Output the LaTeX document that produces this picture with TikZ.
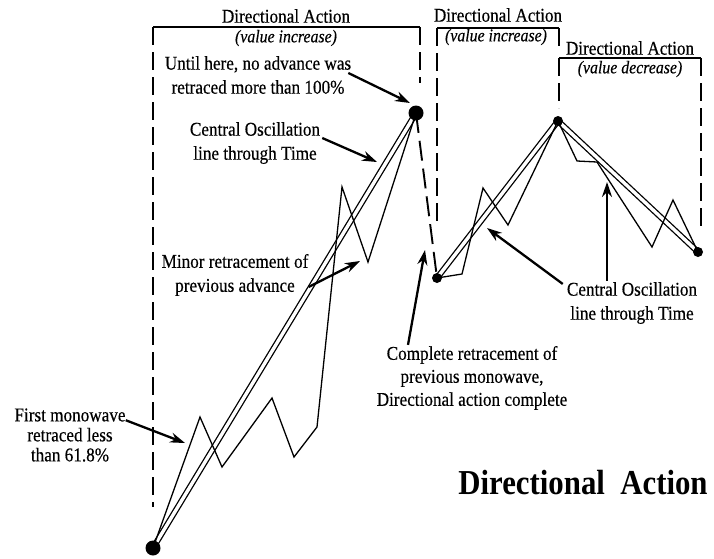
\documentclass[tikz,border=0pt]{standalone}
\usepackage{fontspec}
\setmainfont{Liberation Serif}[FakeStretch=0.88, UprightFeatures={FakeBold=0.35}, ItalicFeatures={FakeBold=0.35}]
\usetikzlibrary{arrows.meta}
\begin{document}
\begin{tikzpicture}[x=1pt,y=-1pt,
  thinl/.style={line width=1.3pt, line join=miter},
  dbl/.style={line width=1.3pt, double=white, double distance=3.4pt},
  dsh/.style={line width=1.9pt, dash pattern=on 18pt off 7pt},
  brk/.style={line width=1.9pt},
  ptr/.style={line width=2.3pt, -{Stealth[length=15pt,width=10pt]}},
  lbl/.style={font=\fontsize{19.5}{24}\selectfont, align=center, inner sep=0pt},
  hdr/.style={font=\fontsize{19.5}{24}\selectfont, inner sep=0pt},
  subh/.style={font=\fontsize{18}{20}\selectfont\itshape, inner sep=0pt},
  bigdot/.style={circle, fill=black, inner sep=0pt, minimum size=15pt},
  smalldot/.style={circle, fill=black, inner sep=0pt, minimum size=10pt}]

\useasboundingbox (0,0) rectangle (714,558);

% key points
\coordinate (p0) at (153,548);
\coordinate (p1) at (416,113);
\coordinate (p2) at (437,278);
\coordinate (p3) at (558,121);
\coordinate (p4) at (698,252);

% brackets
\draw[brk] (153,27) -- (420,27);
\draw[dsh] (153,27) -- (153,507);
\draw[dsh] (420,27) -- (420,83);
\draw[brk] (437,28) -- (559,28);
\draw[dsh] (437,28) -- (437,224);
\draw[dsh] (559,28) -- (559,50);
\draw[brk] (559,58) -- (701,58);
\draw[dsh] (559,58) -- (559,108);
\draw[dsh] (701,58) -- (701,228);

% headers
\node[hdr] (h1) at (286,16) {Directional Action};
\node[subh] (s1) at (286,38) {(value increase)};
\node[hdr] (h2) at (498,15) {Directional Action};
\node[subh] (s2) at (496,37) {(value increase)};
\node[hdr] (h3) at (630,48) {Directional Action};
\node[subh] (s3) at (630,69) {(value decrease)};

% central oscillation lines
\draw[dbl] (p0) -- (p1);
\draw[dbl] (p2) -- (p3);
\draw[dbl] (p3) -- (p4);

% price zigzags
\draw[thinl] (p0) -- (200,417) -- (222,467) -- (272,398) -- (294,457) -- (317,427)
  -- (342,187) -- (368,262) -- (p1);
\draw[thinl] (p2) -- (462,274) -- (483,188) -- (508,225) -- (p3);
\draw[thinl] (p3) -- (577,161) -- (597,162) -- (652,247) -- (673,200) -- (p4);

% retracement
\draw[dsh, dash pattern=on 20pt off 8pt] (p1) -- (p2);

% dots
\node[bigdot] (dA) at (p0) {};
\node[bigdot] (dB) at (p1) {};
\node[smalldot] (dC) at (p2) {};
\node[smalldot] (dD) at (p3) {};
\node[smalldot] (dE) at (p4) {};

% labels
\node[lbl] (until) at (258,75) {Until here, no advance was\\retraced more than 100\%};
\node[lbl] (cent1) at (255,143) {Central Oscillation\\line through Time};
\node[lbl] (minor) at (235,275) {Minor retracement of\\previous advance};
\node[lbl, font=\fontsize{19.5}{20}\selectfont] (first) at (70,435) {First monowave\\retraced less\\than 61.8\%};
\node[lbl, font=\fontsize{19.5}{23}\selectfont] (compl) at (472,378) {Complete retracement of\\previous monowave,\\Directional action complete};
\node[lbl] (cent2) at (632,303) {Central Oscillation\\line through Time};
\node[font=\fontsize{35}{40}\selectfont\bfseries, inner sep=0pt] (title) at (583,483) {Directional\ \ Action};

% arrow tips
\coordinate (tUntil) at (410,103);
\coordinate (tCent1) at (377,162);
\coordinate (tMinor) at (360,261);
\coordinate (tFirst) at (185,443);
\coordinate (tCompl) at (425,250);
\coordinate (tCent2a) at (487,228);
\coordinate (tCent2b) at (607,182);

% arrows
\draw[ptr] ([shift={(-3,-2)}]until.east) -- (tUntil);
\draw[ptr] ([shift={(2,-5)}]cent1.east) -- (tCent1);
\draw[ptr] ([shift={(0,12)}]minor.east) -- (tMinor);
\draw[ptr] ([shift={(0,12)}]first.north east) -- (tFirst);
\draw[ptr] ([shift={(-64,-1)}]compl.north) -- (tCompl);
\draw[ptr] ([shift={(-4,2)}]cent2.north west) -- (tCent2a);
\draw[ptr] ([shift={(-25,-1)}]cent2.north) -- (tCent2b);
\end{tikzpicture}
\end{document}
